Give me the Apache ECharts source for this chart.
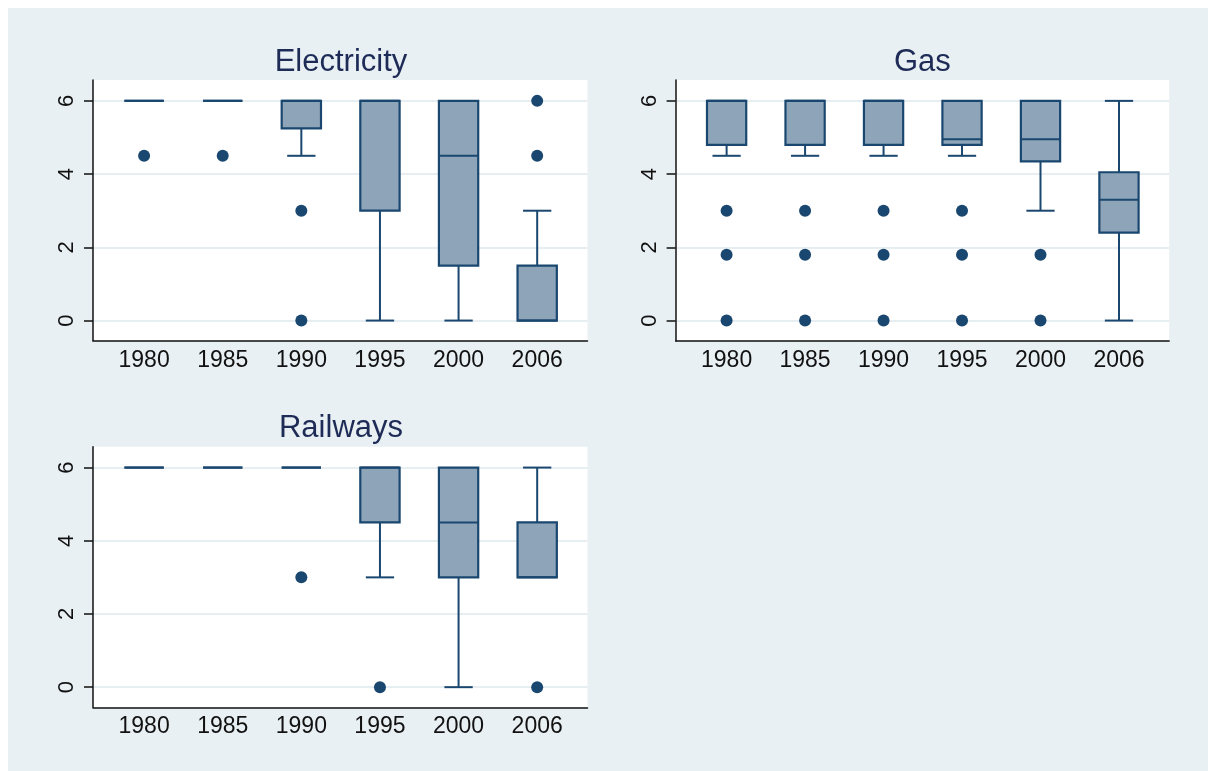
<!DOCTYPE html>
<html>
<head>
<meta charset="utf-8">
<title>Box plots by sector</title>
<script src="https://cdn.jsdelivr.net/npm/echarts@6/dist/echarts.min.js"></script>
<style>
  html, body { margin: 0; padding: 0; background: #ffffff; }
  #chart { width: 1208px; height: 771px; }
</style>
</head>
<body>
<div id="chart"></div>
<script>
// Survey years shown on every panel
const years = ['1980', '1985', '1990', '1995', '2000', '2006'];
const yTicks = [0, 2, 4, 6];

// Box statistics per year: [lower whisker, Q1, median, Q3, upper whisker]
const electricityBoxes = [
  [6, 6, 6, 6, 6],
  [6, 6, 6, 6, 6],
  [4.5, 5.25, 6, 6, 6],
  [0, 3, 6, 6, 6],
  [0, 1.5, 4.5, 6, 6],
  [0, 0, 0, 1.5, 3]
];
const electricityOutliers = [[4.5], [4.5], [3, 0], [], [], [4.5, 6]];

const gasBoxes = [
  [4.5, 4.8, 6, 6, 6],
  [4.5, 4.8, 6, 6, 6],
  [4.5, 4.8, 6, 6, 6],
  [4.5, 4.8, 4.95, 6, 6],
  [3, 4.35, 4.95, 6, 6],
  [0, 2.4, 3.3, 4.05, 6]
];
const gasOutliers = [[3, 1.8, 0], [3, 1.8, 0], [3, 1.8, 0], [3, 1.8, 0], [1.8, 0], []];

const railwaysBoxes = [
  [6, 6, 6, 6, 6],
  [6, 6, 6, 6, 6],
  [6, 6, 6, 6, 6],
  [3, 4.5, 6, 6, 6],
  [0, 3, 4.5, 6, 6],
  [3, 3, 3, 4.5, 6]
];
const railwaysOutliers = [[], [], [3], [0], [], [0]];

const panelTitles = ['Electricity', 'Gas', 'Railways'];

// Styling
const LINE = '#1a476f';
const FILL = '#8ea5b9';
const BOX_W = 0.5;   // box width in year slots
const CAP_W = 0.36;  // whisker cap width in year slots
const FONT = 'Liberation Sans, Arial, sans-serif';

const panels = [
  { title: panelTitles[0], boxes: electricityBoxes, outliers: electricityOutliers,
    grid: { left: 93, top: 80, width: 494.5, height: 260.7 } },
  { title: panelTitles[1], boxes: gasBoxes, outliers: gasOutliers,
    grid: { left: 675.6, top: 80, width: 493.6, height: 260.7 } },
  { title: panelTitles[2], boxes: railwaysBoxes, outliers: railwaysOutliers,
    grid: { left: 93, top: 446.7, width: 494.5, height: 260.6 } }
];

function renderBox(params, api) {
  const x = api.value(0);
  const lo = api.value(1), q1 = api.value(2), md = api.value(3), q3 = api.value(4), hi = api.value(5);
  const half = api.size([BOX_W, 0])[0] / 2;
  const capHalf = api.size([CAP_W, 0])[0] / 2;
  const pLo = api.coord([x, lo]);
  const pQ1 = api.coord([x, q1]);
  const pMd = api.coord([x, md]);
  const pQ3 = api.coord([x, q3]);
  const pHi = api.coord([x, hi]);
  const cx = pLo[0];
  const stroke = { stroke: LINE, lineWidth: 2, fill: null };
  const children = [];
  if (hi > q3) {
    children.push({ type: 'line', shape: { x1: cx, y1: pHi[1], x2: cx, y2: pQ3[1] }, style: stroke });
    children.push({ type: 'line', shape: { x1: cx - capHalf, y1: pHi[1], x2: cx + capHalf, y2: pHi[1] }, style: stroke });
  }
  if (lo < q1) {
    children.push({ type: 'line', shape: { x1: cx, y1: pQ1[1], x2: cx, y2: pLo[1] }, style: stroke });
    children.push({ type: 'line', shape: { x1: cx - capHalf, y1: pLo[1], x2: cx + capHalf, y2: pLo[1] }, style: stroke });
  }
  children.push({
    type: 'rect',
    shape: { x: cx - half, y: pQ3[1], width: half * 2, height: pQ1[1] - pQ3[1] },
    style: { fill: FILL, stroke: LINE, lineWidth: 2.2 }
  });
  children.push({ type: 'line', shape: { x1: cx - half, y1: pMd[1], x2: cx + half, y2: pMd[1] }, style: stroke });
  return { type: 'group', children: children };
}

const option = {
  animation: false,
  backgroundColor: '#ffffff',
  graphic: [{
    type: 'rect', z: -100, silent: true,
    shape: { x: 8, y: 8, width: 1200, height: 763 },
    style: { fill: '#e9f0f3' }
  }],
  title: [],
  grid: [],
  xAxis: [],
  yAxis: [],
  series: []
};

const titleCenters = [[341, 62], [922.4, 62], [341, 428.5]];

panels.forEach(function (p, i) {
  option.title.push({
    text: p.title,
    left: titleCenters[i][0],
    top: titleCenters[i][1],
    textAlign: 'center',
    textVerticalAlign: 'middle',
    padding: 0,
    textStyle: { fontFamily: FONT, fontSize: 31, fontWeight: 'normal', color: '#1e2b57' }
  });
  option.grid.push(Object.assign({ show: true, backgroundColor: '#ffffff', borderWidth: 0 }, p.grid));
  option.xAxis.push({
    type: 'value', gridIndex: i, min: -0.65, max: 5.64,
    axisLine: { show: true, onZero: false, lineStyle: { color: '#111111', width: 1.5 } },
    axisTick: { show: false },
    splitLine: { show: false },
    axisLabel: {
      customValues: years.map(function (y, k) { return k; }),
      formatter: function (v) { return years[v]; },
      fontFamily: FONT, fontSize: 23, color: '#111111', margin: 8
    }
  });
  option.yAxis.push({
    type: 'value', gridIndex: i, min: -0.55, max: 6.57,
    axisLine: { show: true, onZero: false, lineStyle: { color: '#111111', width: 1.5 } },
    axisTick: { show: true, customValues: yTicks, length: 9, lineStyle: { color: '#111111', width: 1.5 } },
    splitLine: { show: true, lineStyle: { color: '#e6eef1', width: 2 } },
    axisLabel: {
      customValues: yTicks, rotate: 90,
      fontFamily: FONT, fontSize: 22, color: '#111111', margin: 15
    }
  });
  option.series.push({
    type: 'custom', xAxisIndex: i, yAxisIndex: i,
    renderItem: renderBox,
    encode: { x: 0, y: [1, 2, 3, 4, 5] },
    data: p.boxes.map(function (b, k) { return [k].concat(b); }),
    z: 3
  });
  const pts = [];
  p.outliers.forEach(function (vals, k) { vals.forEach(function (v) { pts.push([k, v]); }); });
  option.series.push({
    type: 'scatter', xAxisIndex: i, yAxisIndex: i,
    symbol: 'circle', symbolSize: 12,
    itemStyle: { color: LINE, opacity: 1 },
    data: pts, z: 4
  });
});

const chart = echarts.init(document.getElementById('chart'), null, { renderer: 'canvas' });
chart.setOption(option);
</script>
</body>
</html>
